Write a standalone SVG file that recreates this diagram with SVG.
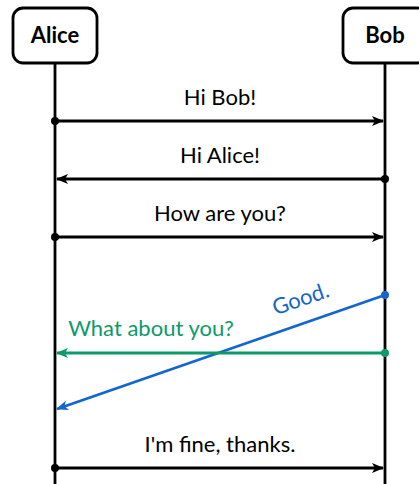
<svg xmlns="http://www.w3.org/2000/svg" width="419" height="484" viewBox="0 0 419 484">
<style>
.box{fill:#fff;stroke:#000;stroke-width:2.8}
.life{stroke:#000;stroke-width:2.8}
.name{font-family:Lato,"Liberation Sans",sans-serif;font-weight:bold;font-size:22px;text-anchor:middle}
.msg{font-family:Lato,"Liberation Sans",sans-serif;font-size:22px;text-anchor:middle}
.a{stroke-width:2.8;fill:none}
</style>
<defs>
<marker id="ab" viewBox="0 0 12 10" refX="11" refY="5" markerWidth="12" markerHeight="10" markerUnits="userSpaceOnUse" orient="auto"><path d="M0,0 L12,5 L0,10 L3,5 Z" fill="#000"/></marker>
<marker id="abl" viewBox="0 0 12 10" refX="11" refY="5" markerWidth="12" markerHeight="10" markerUnits="userSpaceOnUse" orient="auto"><path d="M0,0 L12,5 L0,10 L3,5 Z" fill="#1466cc"/></marker>
<marker id="ag" viewBox="0 0 12 10" refX="11" refY="5" markerWidth="12" markerHeight="10" markerUnits="userSpaceOnUse" orient="auto"><path d="M0,0 L12,5 L0,10 L3,5 Z" fill="#0b9a6b"/></marker>
</defs>
<g id="alice">
<line class="life" x1="55" y1="63" x2="55" y2="484"/>
<rect class="box" x="13" y="8" width="84" height="55" rx="10"/>
<text class="name" x="55" y="43">Alice</text>
</g>
<g id="bob">
<line class="life" x1="385" y1="63" x2="385" y2="484"/>
<rect class="box" x="343" y="8" width="84" height="55" rx="10"/>
<text class="name" x="385" y="43">Bob</text>
</g>
<g id="connectors">
<line class="a" stroke="#000" x1="55" y1="121" x2="383" y2="121" marker-end="url(#ab)"/>
<circle cx="55" cy="121" r="4"/>
<text class="msg" x="220" y="105">Hi Bob!</text>
<line class="a" stroke="#000" x1="385" y1="179" x2="57" y2="179" marker-end="url(#ab)"/>
<circle cx="385" cy="179" r="4"/>
<text class="msg" x="220" y="163">Hi Alice!</text>
<line class="a" stroke="#000" x1="55" y1="237" x2="383" y2="237" marker-end="url(#ab)"/>
<circle cx="55" cy="237" r="4"/>
<text class="msg" x="220" y="221">How are you?</text>
<line class="a" stroke="#1466cc" x1="385" y1="295" x2="57" y2="409" marker-end="url(#abl)"/>
<circle cx="385" cy="295" r="4" fill="#1466cc"/>
<text class="msg" fill="#1466cc" transform="translate(303,306) rotate(-19.2)">Good.</text>
<line class="a" stroke="#0b9a6b" x1="385" y1="353" x2="57" y2="353" marker-end="url(#ag)"/>
<circle cx="385" cy="353" r="4" fill="#0b9a6b"/>
<text class="msg" fill="#0b9a6b" x="151" y="336">What about you?</text>
<line class="a" stroke="#000" x1="55" y1="468" x2="383" y2="468" marker-end="url(#ab)"/>
<circle cx="55" cy="468" r="4"/>
<text class="msg" x="220" y="452">I'm fine, thanks.</text>
</g>
</svg>
